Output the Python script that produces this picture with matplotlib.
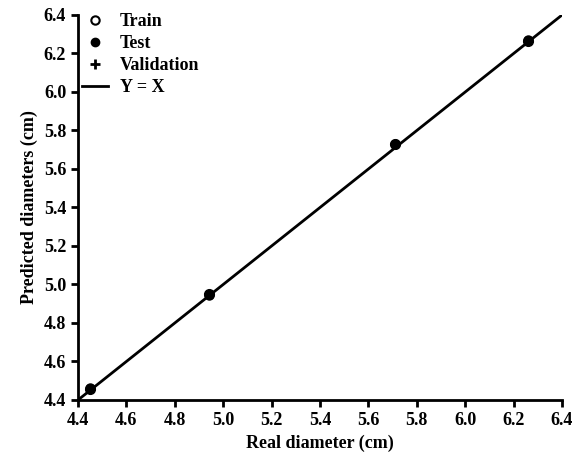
import matplotlib
matplotlib.use("Agg")
import matplotlib.pyplot as plt
from matplotlib.lines import Line2D

plt.rcParams['font.family'] = ['Liberation Serif', 'DejaVu Serif']
plt.rcParams['font.weight'] = 'bold'

# values
real_test = [4.45, 4.94, 5.71, 6.26]
pred_test = [4.455, 4.95, 5.73, 6.265]
real_train = [4.45, 4.94, 5.71, 6.26]
pred_train = [4.46, 4.945, 5.73, 6.27]
line_xy = [4.4, 6.4]
ticks = [4.4, 4.6, 4.8, 5.0, 5.2, 5.4, 5.6, 5.8, 6.0, 6.2, 6.4]

fig = plt.figure(figsize=(5.79, 4.67), dpi=100)
ax = fig.add_axes([0.1347, 0.1435, 0.836, 0.8244])

ax.plot(line_xy, line_xy, color="black", lw=2)
ax.plot(real_train, pred_train, 'o', mfc='none', mec='black', ms=6, mew=1.5)
ax.plot(real_test, pred_test, 'o', color='black', ms=7)

ax.set_xlim(4.4, 6.4)
ax.set_ylim(4.4, 6.4)
ax.set_xticks(ticks)
ax.set_yticks(ticks)
ax.set_xticklabels(["%.1f" % t for t in ticks])
ax.set_yticklabels(["%.1f" % t for t in ticks])
ax.tick_params(labelsize=13, width=2, length=5, direction='out')
for s in ['top', 'right']:
    ax.spines[s].set_visible(False)
for s in ['left', 'bottom']:
    ax.spines[s].set_linewidth(2)

ax.set_xlabel("Real diameter (cm)", fontsize=13, fontweight='bold')
ax.set_ylabel("Predicted diameters (cm)", fontsize=13, fontweight='bold')

handles = [
    Line2D([], [], marker='o', ls='none', mfc='none', mec='black', mew=1.5, ms=6),
    Line2D([], [], marker='o', ls='none', color='black', ms=6),
    Line2D([], [], marker='+', ls='none', color='black', ms=7, mew=2),
    Line2D([], [], color='black', lw=2),
]
ax.legend(handles, ["Train", "Test", "Validation", "Y = X"], loc='upper left',
          frameon=False, fontsize=13, handlelength=1.45, borderaxespad=0.0,
          borderpad=0.2, labelspacing=0.28, handletextpad=0.65,
          bbox_to_anchor=(0.0, 1.014))

fig.savefig("out.png", dpi=100)
